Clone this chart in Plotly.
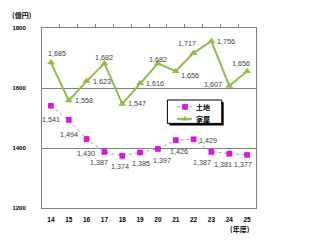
import plotly.graph_objects as go

years = ["14", "15", "16", "17", "18", "19", "20", "21", "22", "23", "24", "25"]
land = [1541, 1494, 1430, 1387, 1374, 1385, 1397, 1426, 1429, 1387, 1381, 1377]
house = [1685, 1558, 1623, 1682, 1547, 1616, 1682, 1656, 1717, 1756, 1607, 1656]
y_ticks = [1200, 1400, 1600, 1800]

# label offsets in pixels (dx right, dy down)
land_off = [(0, 14), (0, 15), (-1, 14), (-5, 11), (-2, 11), (1, 11), (4, 12),
            (3, 11), (14, 1), (-9, 11), (-6, 11), (-4, 10)]
house_off = [(6, -9), (15, 0), (15, 0), (0, -6), (15, 0), (15, 0), (0, -4),
             (14, 4), (-7, -9), (15, 0), (-16, -1), (-6, -8)]

GREEN = "#93BB48"
MAGENTA = "#FF00FF"
xs = list(range(len(years)))
fmt = lambda v: f"{v:,}"
lab_font = dict(family="Liberation Sans, Arial", size=7.2, color="#404040")

fig = go.Figure()
fig.add_trace(go.Scatter(
    x=xs, y=land, name="土地", mode="lines+markers",
    line=dict(color="#A0A0A0", width=1, dash="dot"),
    marker=dict(symbol="square", size=5, color=MAGENTA, line=dict(color="#800080", width=0.5)),
    cliponaxis=False, showlegend=False,
))
fig.add_trace(go.Scatter(
    x=xs, y=house, name="家屋", mode="lines+markers",
    line=dict(color=GREEN, width=2),
    marker=dict(symbol="triangle-up", size=7, color=GREEN),
    cliponaxis=False, showlegend=False,
))
# top tick axis
fig.add_trace(go.Scatter(x=xs, y=[None] * len(xs), xaxis="x2", showlegend=False,
                         hoverinfo="skip", mode="lines"))

# manual legend (in overlay axis with 0..1 range == paper coords of plot area)
leg_x0, leg_x1, leg_y0, leg_y1 = 0.586, 0.84, 0.47, 0.6
row_y = [0.562, 0.495]
samp_x = [0.632, 0.7]
fig.add_trace(go.Scatter(x=samp_x, y=[row_y[0]] * 2, xaxis="x3", yaxis="y3", mode="lines",
                         line=dict(color="#A0A0A0", width=1, dash="dot"), showlegend=False,
                         hoverinfo="skip", cliponaxis=False))
fig.add_trace(go.Scatter(x=[0.668], y=[row_y[0]], xaxis="x3", yaxis="y3", mode="markers",
                         marker=dict(symbol="square", size=5, color=MAGENTA,
                                     line=dict(color="#800080", width=0.5)),
                         showlegend=False, hoverinfo="skip", cliponaxis=False))
fig.add_trace(go.Scatter(x=samp_x, y=[row_y[1]] * 2, xaxis="x3", yaxis="y3", mode="lines",
                         line=dict(color=GREEN, width=2), showlegend=False,
                         hoverinfo="skip", cliponaxis=False))
fig.add_trace(go.Scatter(x=[0.668], y=[row_y[1]], xaxis="x3", yaxis="y3", mode="markers",
                         marker=dict(symbol="triangle-up", size=6, color=GREEN),
                         showlegend=False, hoverinfo="skip", cliponaxis=False))

annotations = []
for i, v in enumerate(land):
    dx, dy = land_off[i]
    annotations.append(dict(x=xs[i], y=v, text=fmt(v), showarrow=False, xshift=dx, yshift=-dy,
                            font=lab_font, xanchor="center", yanchor="middle"))
for i, v in enumerate(house):
    dx, dy = house_off[i]
    annotations.append(dict(x=xs[i], y=v, text=fmt(v), showarrow=False, xshift=dx, yshift=-dy,
                            font=lab_font, xanchor="center", yanchor="middle"))

jp_font = dict(family="Noto Sans CJK JP", size=7, color="#000000", weight="bold")
annotations += [
    dict(text="(億円)", xref="paper", yref="paper", x=-0.095, y=1.072, xanchor="center",
         yanchor="middle", showarrow=False, font=jp_font),
    dict(text="(年度)", xref="paper", yref="paper", x=0.98, y=-0.117, xanchor="right",
         yanchor="middle", showarrow=False, font=jp_font),
    dict(text="土地", xref="paper", yref="paper", x=0.709, y=row_y[0], xanchor="left",
         yanchor="middle", showarrow=False, font=jp_font),
    dict(text="家屋", xref="paper", yref="paper", x=0.709, y=row_y[1], xanchor="left",
         yanchor="middle", showarrow=False, font=jp_font),
]

shapes = [
    dict(type="rect", xref="paper", yref="paper", x0=leg_x0 + 0.009, x1=leg_x1 + 0.009,
         y0=leg_y0 - 0.011, y1=leg_y1 - 0.011, fillcolor="#000000", line=dict(width=0),
         layer="below"),
    dict(type="rect", xref="paper", yref="paper", x0=leg_x0, x1=leg_x1, y0=leg_y0, y1=leg_y1,
         fillcolor="white", line=dict(color="#000000", width=1), layer="below"),
]

tick_font = dict(family="Liberation Sans, Arial", size=6.5, color="#000000", weight="bold")
fig.update_layout(
    width=320, height=249,
    margin=dict(l=36, r=64, t=28, b=41),
    paper_bgcolor="white", plot_bgcolor="white",
    font=dict(family="Liberation Sans, Arial", size=8, color="#000000"),
    showlegend=False,
    xaxis=dict(
        range=[-0.5, len(years) - 0.5], tickvals=xs, ticktext=years,
        showgrid=False, zeroline=False, showline=True, linecolor="#808080", linewidth=1,
        mirror=True, ticks="", tickfont=tick_font, ticklabelstandoff=5,
    ),
    xaxis2=dict(
        overlaying="x", side="top", range=[-0.5, len(years) - 0.5],
        tickvals=[i + 0.5 for i in xs[:-1]], showticklabels=False,
        ticks="outside", ticklen=3, tickcolor="#808080", showgrid=False, zeroline=False,
        showline=False,
    ),
    xaxis3=dict(overlaying="x", range=[0, 1], visible=False, fixedrange=True),
    yaxis3=dict(overlaying="y", range=[0, 1], visible=False, fixedrange=True),
    yaxis=dict(
        range=[1200, 1800], tickvals=y_ticks, showgrid=True, gridcolor="#808080", gridwidth=1,
        zeroline=False, showline=True, linecolor="#808080", linewidth=1, mirror=True, ticks="",
        tickfont=dict(family="Liberation Sans, Arial", size=6, color="#000000", weight="bold"),
        ticklabelstandoff=14,
    ),
    annotations=annotations,
    shapes=shapes,
)

fig.write_html("out.html")
